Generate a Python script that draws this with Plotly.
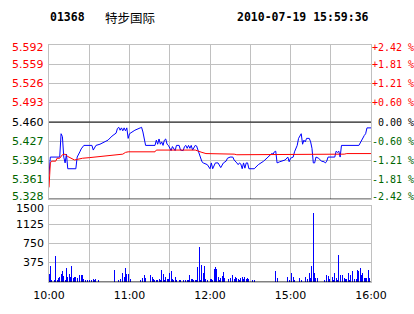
import plotly.graph_objects as go

# ---------------- data ----------------
stock_code = "01368"
stock_name = "特步国际"
timestamp = "2010-07-19 15:59:36"
prev_close = 5.460

price_levels = [5.328, 5.361, 5.394, 5.427, 5.460, 5.493, 5.526, 5.559, 5.592]
pct_labels = ["-2.42 %", "-1.81 %", "-1.21 %", "-0.60 %", " 0.00 %",
              "+0.60 %", "+1.21 %", "+1.81 %", "+2.42 %"]
vol_levels = [375, 750, 1125, 1500]
vol_labels = ["375", "750", "1125", "1500"]

time_ticks = [0, 30, 60, 90, 120, 150, 180, 210, 240]
time_labels = ["10:00", "", "11:00", "", "12:00", "", "15:00", "", "16:00"]

# minutes since 10:00 (trading minutes) and last price
price_min = [0, 1, 8, 9, 10, 11, 12, 13, 14, 20, 21, 22, 23, 24, 26, 32, 33, 35, 38, 44,
             47, 50, 51, 52, 53, 54, 55, 56, 57, 58, 59, 60, 64, 68, 69, 70, 72, 79, 80, 81,
             82, 83, 84, 85, 86, 87, 88, 89, 90, 91, 92, 94, 95, 97, 98, 99, 100, 101, 102, 103,
             104, 105, 106, 107, 109, 110, 111, 112, 113, 114, 115, 117, 118, 120, 121, 122, 124, 126, 127, 128,
             130, 131, 132, 133, 135, 137, 138, 140, 141, 142, 143, 144, 145, 146, 147, 148, 149, 153, 156, 160,
             163, 166, 167, 168, 169, 170, 172, 174, 176, 178, 179, 180, 182, 183, 184, 185, 186, 187, 188, 189,
             190, 191, 192, 194, 195, 196, 197, 198, 199, 201, 202, 203, 205, 206, 207, 208, 213, 214, 215, 216,
             217, 218, 231, 233, 234, 235, 236, 237, 240]
price_val = [5.370, 5.400, 5.400, 5.440, 5.435, 5.400, 5.390, 5.405, 5.380, 5.380, 5.400, 5.406, 5.409, 5.414, 5.420, 5.420, 5.412, 5.420, 5.422, 5.429,
             5.436, 5.441, 5.449, 5.451, 5.446, 5.450, 5.445, 5.450, 5.445, 5.450, 5.432, 5.440, 5.446, 5.450, 5.451, 5.443, 5.420, 5.420, 5.429, 5.422,
             5.431, 5.422, 5.426, 5.420, 5.429, 5.431, 5.422, 5.420, 5.416, 5.411, 5.418, 5.411, 5.420, 5.420, 5.412, 5.411, 5.411, 5.418, 5.420, 5.415,
             5.420, 5.415, 5.420, 5.412, 5.420, 5.419, 5.412, 5.404, 5.395, 5.392, 5.390, 5.388, 5.387, 5.380, 5.390, 5.380, 5.390, 5.390, 5.387, 5.382,
             5.390, 5.392, 5.393, 5.398, 5.400, 5.400, 5.395, 5.390, 5.387, 5.390, 5.388, 5.380, 5.390, 5.381, 5.390, 5.390, 5.380, 5.380, 5.387, 5.393,
             5.400, 5.406, 5.405, 5.409, 5.410, 5.390, 5.392, 5.393, 5.395, 5.400, 5.392, 5.398, 5.400, 5.409, 5.415, 5.420, 5.432, 5.435, 5.440, 5.422,
             5.429, 5.426, 5.432, 5.432, 5.426, 5.415, 5.390, 5.390, 5.400, 5.398, 5.395, 5.393, 5.392, 5.390, 5.393, 5.400, 5.400, 5.410, 5.408, 5.410,
             5.400, 5.420, 5.420, 5.430, 5.434, 5.437, 5.440, 5.450, 5.450]

# average price line
avg_min = [0, 1, 2, 5, 6, 8, 10, 12, 14, 16, 19, 21, 25, 30, 40, 50, 55, 57, 59, 79,
           80, 109, 111, 114, 117, 123, 124, 138, 140, 193, 194, 220, 222, 240]
avg_val = [5.348, 5.390, 5.393, 5.393, 5.398, 5.398, 5.404, 5.405, 5.401, 5.398, 5.395, 5.396, 5.398, 5.399, 5.401, 5.404, 5.405, 5.408, 5.409, 5.409,
           5.412, 5.412, 5.410, 5.408, 5.406, 5.406, 5.405, 5.405, 5.404, 5.404, 5.405, 5.405, 5.406, 5.406]

# volume per minute
vol_min = [0, 1, 2, 4, 5, 6, 7, 8, 9, 10, 11, 12, 13, 14, 15, 16, 17, 18, 19, 20,
           21, 23, 24, 25, 26, 27, 29, 30, 32, 33, 34, 35, 37, 49, 52, 53, 55, 56, 57, 58,
           59, 61, 68, 70, 71, 72, 76, 77, 78, 79, 80, 81, 82, 83, 84, 85, 86, 87, 88, 89,
           90, 91, 92, 93, 94, 95, 97, 98, 100, 102, 103, 104, 105, 106, 107, 108, 109, 110, 111, 112,
           113, 114, 115, 116, 117, 118, 120, 121, 122, 123, 124, 125, 126, 127, 128, 129, 130, 131, 134, 135,
           137, 138, 139, 140, 141, 142, 143, 144, 145, 146, 147, 148, 149, 152, 153, 169, 170, 178, 179, 181,
           182, 183, 187, 188, 191, 193, 194, 195, 196, 197, 198, 199, 200, 205, 207, 208, 209, 211, 212, 213,
           214, 215, 216, 217, 219, 220, 221, 222, 223, 224, 225, 226, 228, 229, 230, 231, 232, 233, 234, 235,
           236, 237, 238, 239]
vol_val = [153, 324, 44, 44, 515, 44, 70, 89, 153, 216, 121, 44, 280, 89, 153, 108, 324, 70, 89, 108,
           83, 133, 133, 133, 57, 44, 44, 44, 44, 57, 44, 57, 44, 235, 44, 57, 172, 108, 267, 153,
           165, 57, 44, 70, 146, 83, 133, 89, 57, 44, 44, 44, 57, 44, 235, 153, 44, 108, 57, 57,
           172, 210, 57, 44, 89, 44, 44, 44, 44, 44, 44, 44, 133, 57, 57, 44, 44, 44, 305, 686,
           44, 343, 172, 324, 57, 44, 57, 57, 44, 248, 286, 261, 95, 44, 83, 114, 191, 83, 57, 83,
           146, 57, 95, 76, 57, 44, 76, 89, 57, 108, 57, 70, 57, 44, 44, 222, 76, 108, 44, 184,
           89, 44, 70, 44, 95, 57, 172, 70, 324, 1366, 172, 70, 70, 44, 133, 121, 57, 108, 44, 184,
           70, 32, 534, 133, 133, 83, 57, 57, 184, 44, 133, 216, 57, 57, 229, 210, 267, 133, 172, 76,
           83, 70, 242, 70]

# ---------------- styles ----------------
RED = "#ff0000"
GREEN = "#006600"
GRID = "#c0c0c0"

def level_color(v):
    if abs(v - prev_close) < 1e-9:
        return "#000000"
    return RED if v > prev_close else GREEN

fig = go.Figure()
fig.add_trace(go.Scatter(x=price_min, y=price_val, mode="lines",
                         line=dict(color="#0000ff", width=1), xaxis="x", yaxis="y",
                         hoverinfo="skip"))
fig.add_trace(go.Scatter(x=avg_min, y=avg_val, mode="lines",
                         line=dict(color=RED, width=1), xaxis="x", yaxis="y",
                         hoverinfo="skip"))
fig.add_trace(go.Bar(x=vol_min, y=vol_val, width=0.75, marker=dict(color="#0000ff", line=dict(width=0)),
                     xaxis="x2", yaxis="y2", hoverinfo="skip"))

common_x = dict(range=[0, 240], tickvals=time_ticks, showgrid=True, gridcolor=GRID, gridwidth=1,
                zeroline=False, showline=True, linecolor=GRID, linewidth=1, mirror=True, fixedrange=True)

fig.update_layout(
    width=414, height=314,
    margin=dict(l=49, r=43, t=45, b=26),
    paper_bgcolor="white", plot_bgcolor="white",
    showlegend=False, bargap=0,
    xaxis=dict(domain=[0, 1], anchor="y", showticklabels=False, ticks="", **common_x),
    yaxis=dict(domain=[0.3498, 1], range=[price_levels[0], price_levels[-1]], tickvals=price_levels,
               showticklabels=False, showgrid=True, gridcolor=GRID, gridwidth=1, zeroline=False,
               showline=True, linecolor=GRID, linewidth=1, mirror=True, ticks="", fixedrange=True),
    xaxis2=dict(domain=[0, 1], anchor="y2", ticktext=time_labels, showticklabels=True,
                ticks="outside", ticklen=3, tickcolor="rgba(0,0,0,0)",
                tickfont=dict(family="DejaVu Sans", size=11, color="#000000"),
                **common_x),
    yaxis2=dict(domain=[0, 0.321], range=[0, 1500], tickvals=vol_levels, showticklabels=False,
                showgrid=True, gridcolor=GRID, gridwidth=1, zeroline=False,
                showline=True, linecolor=GRID, linewidth=1, mirror=True, ticks="", fixedrange=True),
)

shapes = [
    dict(type="line", xref="paper", yref="y", x0=0, x1=1, y0=prev_close, y1=prev_close,
         line=dict(color="#000000", width=1), layer="above"),
    dict(type="line", xref="paper", yref="y", x0=0, x1=1, y0=price_levels[0], y1=price_levels[0],
         line=dict(color="#000000", width=1), layer="above"),
    dict(type="line", xref="paper", yref="y2", x0=0, x1=1, y0=0, y1=0,
         line=dict(color="#000000", width=1), layer="above"),
]
fig.update_layout(shapes=shapes)

ann = []
n = len(price_levels)
for i, (lv, pl) in enumerate(zip(price_levels, pct_labels)):
    ys = 0
    if i == 0:
        ys = 3
    elif i == n - 1:
        ys = -2
    c = level_color(lv)
    ann.append(dict(x=0, xref="paper", y=lv, yref="y", text="%.3f" % lv, showarrow=False,
                    xanchor="right", yanchor="middle", xshift=-3, yshift=ys,
                    font=dict(family="DejaVu Sans", size=11, color=c)))
    ann.append(dict(x=1, xref="paper", y=lv, yref="y", text=pl.replace(" ", "&nbsp;"), showarrow=False,
                    xanchor="left", yanchor="middle", xshift=-1, yshift=ys,
                    font=dict(family="DejaVu Sans Mono", size=10, color=c)))
for lv, lb in zip(vol_levels, vol_labels):
    ys = -3 if lv == vol_levels[-1] else 0
    ann.append(dict(x=0, xref="paper", y=lv, yref="y2", text=lb, showarrow=False,
                    xanchor="right", yanchor="middle", xshift=-3, yshift=ys,
                    font=dict(family="DejaVu Sans", size=11, color="#000000")))

hdr_y = (288 - 16.5) / 243
ann.append(dict(x=(50 - 49) / 322, xref="paper", y=hdr_y, yref="paper", text="<b>%s</b>" % stock_code,
                showarrow=False, xanchor="left", yanchor="middle", xshift=-2,
                font=dict(family="DejaVu Sans Mono", size=11.5, color="#000000")))
ann.append(dict(x=(105 - 49) / 322, xref="paper", y=hdr_y, yref="paper", text=stock_name,
                showarrow=False, xanchor="left", yanchor="middle", xshift=-2,
                font=dict(family="Noto Sans CJK SC", size=12.5, color="#000000")))
ann.append(dict(x=1, xref="paper", y=hdr_y, yref="paper", text="<b>%s</b>" % timestamp,
                showarrow=False, xanchor="right", yanchor="middle", xshift=0,
                font=dict(family="DejaVu Sans Mono", size=11.5, color="#000000")))
fig.update_layout(annotations=ann)

fig.write_html("out.html", config={"displayModeBar": False, "staticPlot": True})
